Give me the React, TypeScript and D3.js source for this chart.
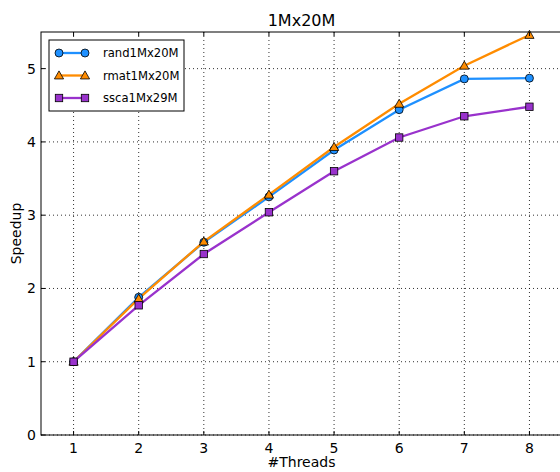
import React from "react";
import * as d3 from "d3";

const threads = [1, 2, 3, 4, 5, 6, 7, 8];
const rand = [1, 1.88, 2.63, 3.25, 3.89, 4.44, 4.86, 4.87];
const rmat = [1, 1.86, 2.64, 3.28, 3.93, 4.52, 5.04, 5.46];
const ssca = [1, 1.77, 2.47, 3.04, 3.6, 4.06, 4.35, 4.48];
const xTicks = [1, 2, 3, 4, 5, 6, 7, 8];
const yTicks = [0, 1, 2, 3, 4, 5];
const seriesNames = ["rand1Mx20M", "rmat1Mx20M", "ssca1Mx29M"];
const seriesColors = ["#1e90ff", "#ff8c00", "#9932cc"];
const seriesMarkers = ["circle", "triangle", "square"];

const W = 560, H = 472;
const left = 41, right = 562, top = 32, bottom = 435;

function Marker({ type, x, y, color }: { type: string; x: number; y: number; color: string }) {
  if (type === "circle") return <circle cx={x} cy={y} r={4} fill={color} stroke="#000" strokeWidth={0.8} />;
  if (type === "triangle") {
    const s = 4.6;
    const p = `${x},${y - s} ${x - s},${y + s * 0.75} ${x + s},${y + s * 0.75}`;
    return <polygon points={p} fill={color} stroke="#000" strokeWidth={0.8} />;
  }
  return <rect x={x - 3.7} y={y - 3.7} width={7.4} height={7.4} fill={color} stroke="#000" strokeWidth={0.8} />;
}

export default function App() {
  const x = d3.scaleLinear().domain([0.5, 8.5]).range([left, right]);
  const y = d3.scaleLinear().domain([0, 5.5]).range([bottom, top]);
  const data = [rand, rmat, ssca];
  const line = d3.line<number>().x((_, i) => x(threads[i])).y((d) => y(d));
  const font = "DejaVu Sans, sans-serif";
  return (
    <svg width={W} height={H} style={{ position: "absolute", left: 0, top: 0 }} fontFamily={font}>
      <rect x={0} y={0} width={W} height={H} fill="#fff" />
      {xTicks.map((t) => (
        <line key={"gx" + t} x1={x(t)} x2={x(t)} y1={top} y2={bottom} stroke="#000" strokeWidth={1} strokeDasharray="1,3" opacity={0.8} />
      ))}
      {yTicks.map((t) => (
        <line key={"gy" + t} x1={left} x2={right} y1={y(t)} y2={y(t)} stroke="#000" strokeWidth={1} strokeDasharray="1,3" opacity={0.8} />
      ))}
      {data.map((d, si) => (
        <path key={"l" + si} d={line(d) || ""} fill="none" stroke={seriesColors[si]} strokeWidth={2.3} />
      ))}
      {data.map((d, si) =>
        d.map((v, i) => <Marker key={"m" + si + "-" + i} type={seriesMarkers[si]} x={x(threads[i])} y={y(v)} color={seriesColors[si]} />)
      )}
      <rect x={left} y={top} width={right - left} height={bottom - top} fill="none" stroke="#000" strokeWidth={1} />
      {xTicks.map((t) => (
        <g key={"tx" + t}>
          <line x1={x(t)} x2={x(t)} y1={bottom} y2={bottom - 4} stroke="#000" />
          <line x1={x(t)} x2={x(t)} y1={top} y2={top + 4} stroke="#000" />
          <text x={x(t)} y={bottom + 18} textAnchor="middle" fontSize={14}>{t}</text>
        </g>
      ))}
      {yTicks.map((t) => (
        <g key={"ty" + t}>
          <line x1={left} x2={left + 4} y1={y(t)} y2={y(t)} stroke="#000" />
          <text x={left - 5} y={y(t) + 5} textAnchor="end" fontSize={14}>{t}</text>
        </g>
      ))}
      <text x={(left + right) / 2} y={26} textAnchor="middle" fontSize={16}>1Mx20M</text>
      <text x={(left + right) / 2} y={467} textAnchor="middle" fontSize={14}>#Threads</text>
      <text transform={`translate(21,${(top + bottom) / 2}) rotate(-90)`} textAnchor="middle" fontSize={14}>Speedup</text>
      <rect x={49} y={40} width={135} height={71} fill="#fff" stroke="#000" strokeWidth={1} />
      {seriesNames.map((n, i) => {
        const ly = 53 + i * 22.5;
        return (
          <g key={"lg" + i}>
            <line x1={59} x2={85} y1={ly} y2={ly} stroke={seriesColors[i]} strokeWidth={2.3} />
            <Marker type={seriesMarkers[i]} x={59} y={ly} color={seriesColors[i]} />
            <Marker type={seriesMarkers[i]} x={85} y={ly} color={seriesColors[i]} />
            <text x={103} y={ly + 4} fontSize={11.6}>{n}</text>
          </g>
        );
      })}
    </svg>
  );
}
